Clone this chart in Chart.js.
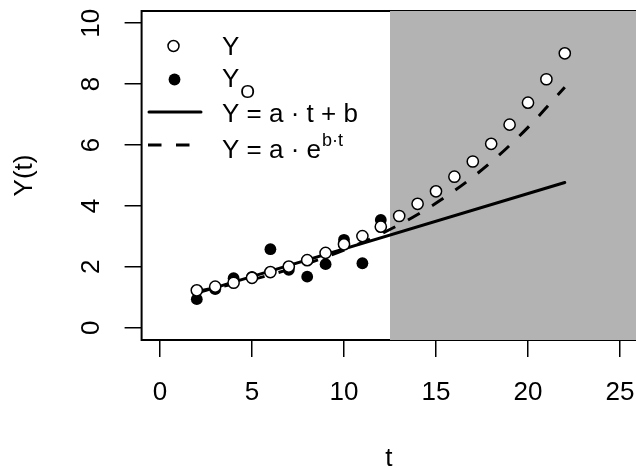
<!DOCTYPE html>
<html>
<head>
<meta charset="utf-8">
<script src="https://cdn.jsdelivr.net/npm/chart.js@4/dist/chart.umd.min.js"></script>
<style>
  html, body { margin: 0; padding: 0; background: #ffffff; overflow: hidden; }
  #wrap { width: 636px; height: 470px; }
</style>
</head>
<body>
<div id="wrap"><canvas id="c" width="636" height="470"></canvas></div>
<script>
// ---- data ----
const tModel = [2,3,4,5,6,7,8,9,10,11,12,13,14,15,16,17,18,19,20,21,22];
const yModel = [1.23,1.35,1.48,1.64,1.83,2.01,2.22,2.46,2.74,3.01,3.32,3.67,4.07,4.48,4.96,5.46,6.04,6.67,7.39,8.16,9.01];
const tObs = [2,3,4,5,6,7,8,9,10,11,12];
const yObs = [0.94,1.27,1.63,1.67,2.58,1.90,1.68,2.09,2.89,2.12,3.54];
const linT = [2,22];
const linY = [1.14,4.77];
const expT = [2,4,6,8,10,12,14,16,18,20,22];
const expY = [1.19,1.44,1.74,2.11,2.55,3.08,3.72,4.50,5.44,6.58,7.90];
const shadeStart = 12.5;
const xTicks = [0,5,10,15,20,25];
const yTicks = [0,2,4,6,8,10];
const xTitle = 't';
const yTitle = 'Y(t)';

const FONT = '"Liberation Sans", Arial, Helvetica, sans-serif';
const FS = 26;
Chart.defaults.font.family = FONT;
Chart.defaults.color = '#000';

const pts = (xs, ys) => xs.map((x, i) => ({x: x, y: ys[i]}));

const framePlugin = {
  id: 'frame',
  beforeDatasetsDraw(chart) {
    const ctx = chart.ctx, a = chart.chartArea, xs = chart.scales.x;
    ctx.save();
    ctx.strokeStyle = '#000';
    ctx.lineWidth = 2;
    ctx.beginPath();
    ctx.moveTo(a.right + 2, a.top);
    ctx.lineTo(a.left, a.top);
    ctx.lineTo(a.left, a.bottom);
    ctx.lineTo(a.right + 2, a.bottom);
    ctx.stroke();
    const x0 = xs.getPixelForValue(shadeStart);
    ctx.fillStyle = '#b3b3b3';
    ctx.fillRect(x0, a.top, a.right - x0 + 2, a.bottom - a.top);
    ctx.restore();
  },
  afterDraw(chart) {
    const ctx = chart.ctx, ys = chart.scales.y;
    ctx.save();
    ctx.fillStyle = '#000';
    ctx.font = FS + 'px ' + FONT;
    ctx.textAlign = 'center';
    ctx.textBaseline = 'middle';
    yTicks.forEach(v => {
      const py = ys.getPixelForValue(v);
      ctx.save();
      ctx.translate(91.5, py);
      ctx.rotate(-Math.PI / 2);
      ctx.fillText(String(v), 0, 0);
      ctx.restore();
    });
    // legend
    ctx.textAlign = 'left';
    ctx.textBaseline = 'alphabetic';
    const tx = 222;
    ctx.beginPath();
    ctx.arc(173.5, 46, 5.5, 0, Math.PI * 2);
    ctx.fillStyle = '#fff'; ctx.fill();
    ctx.lineWidth = 1.5; ctx.strokeStyle = '#000'; ctx.stroke();
    ctx.fillStyle = '#000';
    ctx.font = FS + 'px ' + FONT;
    ctx.fillText('Y', tx, 55);
    ctx.beginPath();
    ctx.arc(174.5, 79.5, 5.9, 0, Math.PI * 2);
    ctx.fill();
    ctx.fillText('Y', tx, 87);
    let w = ctx.measureText('Y').width;
    ctx.font = '19px ' + FONT;
    ctx.fillText('O', tx + w + 1, 98);
    ctx.lineWidth = 3;
    ctx.lineCap = 'round';
    ctx.beginPath(); ctx.moveTo(149, 112); ctx.lineTo(201, 112); ctx.stroke();
    ctx.font = FS + 'px ' + FONT;
    ctx.fillText('Y = a \u00B7 t + b', tx, 122);
    ctx.lineCap = 'butt';
    ctx.setLineDash([13.5, 14.5]);
    ctx.beginPath(); ctx.moveTo(148, 145); ctx.lineTo(191, 145); ctx.stroke();
    ctx.setLineDash([]);
    const base = 'Y = a \u00B7 e';
    ctx.fillText(base, tx, 158);
    w = ctx.measureText(base).width;
    ctx.font = '18px ' + FONT;
    ctx.fillText('b\u00B7t', tx + w + 1, 146);
    ctx.restore();
  }
};

new Chart(document.getElementById('c'), {
  type: 'scatter',
  data: {
    datasets: [
      { label: 'Y', data: pts(tModel, yModel), showLine: false,
        pointRadius: 5.6, pointHoverRadius: 5.6, pointBackgroundColor: '#fff',
        pointBorderColor: '#000', pointBorderWidth: 1.5 },
      { label: 'Yo', data: pts(tObs, yObs), showLine: false,
        pointRadius: 5.9, pointHoverRadius: 5.9, pointBackgroundColor: '#000',
        pointBorderColor: '#000', pointBorderWidth: 0 },
      { label: 'lin', data: pts(linT, linY), showLine: true, pointRadius: 0,
        borderColor: '#000', borderWidth: 3, borderCapStyle: 'round', fill: false },
      { label: 'exp', data: pts(expT, expY), showLine: true, pointRadius: 0,
        borderColor: '#000', borderWidth: 3, borderDash: [13.5, 14.5], borderCapStyle: 'butt',
        cubicInterpolationMode: 'monotone', fill: false }
    ]
  },
  options: {
    responsive: false,
    animation: false,
    devicePixelRatio: 1,
    layout: { autoPadding: false, padding: { top: 11, right: 0, bottom: 0, left: 0 } },
    plugins: { legend: { display: false }, tooltip: { enabled: false } },
    events: [],
    scales: {
      x: {
        type: 'linear', position: 'bottom', min: -1, max: 25.87,
        afterBuildTicks: s => { s.ticks = xTicks.map(v => ({ value: v })); },
        afterFit: s => { s.height = 130; s.paddingLeft = 0; s.paddingRight = 0; },
        ticks: { font: { size: FS }, padding: 20, color: '#000', maxRotation: 0, autoSkip: false },
        grid: { drawOnChartArea: false, drawTicks: true, tickLength: 17, color: '#000', tickColor: '#000', lineWidth: 1.5 },
        border: { display: false },
        title: { display: true, text: xTitle, font: { size: FS, lineHeight: 0.85 }, padding: 0, color: '#000' }
      },
      y: {
        type: 'linear', position: 'left', min: -0.4, max: 10.4,
        afterBuildTicks: s => { s.ticks = yTicks.map(v => ({ value: v })); },
        afterFit: s => { s.width = 141.6; s.paddingTop = 0; s.paddingBottom = 0; },
        ticks: { display: false },
        grid: { drawOnChartArea: false, drawTicks: true, tickLength: 17, color: '#000', tickColor: '#000', lineWidth: 1.5 },
        border: { display: false },
        title: { display: true, text: yTitle, font: { size: FS }, padding: { top: 9.4, bottom: 0 }, color: '#000' }
      }
    }
  },
  plugins: [framePlugin]
});
</script>
</body>
</html>
